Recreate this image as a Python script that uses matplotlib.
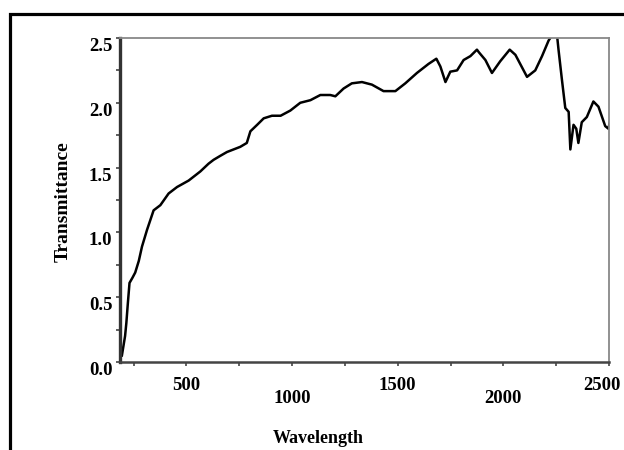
import matplotlib
matplotlib.use("Agg")
import matplotlib.pyplot as plt
from matplotlib.patches import Rectangle
from matplotlib.ticker import MultipleLocator

# Transmittance spectrum, values
wavelength = [195, 202, 210, 216, 223, 231, 245, 258, 275, 290, 314, 345, 377, 416,
              456, 511, 566, 605, 629, 660, 692, 755, 786, 803, 835, 866, 905, 946,
              992, 1039, 1087, 1134, 1181, 1205, 1244, 1283, 1331, 1378, 1433, 1489,
              1536, 1591, 1646, 1683, 1702, 1726, 1749, 1781, 1812, 1844, 1875, 1884,
              1915, 1946, 1985, 2030, 2057, 2112, 2151, 2183, 2214, 2230, 2254, 2261,
              2277, 2293, 2309, 2317, 2332, 2345, 2355, 2371, 2395, 2426, 2450, 2482,
              2497, 2513]
transmittance = [0.05, 0.12, 0.20, 0.30, 0.45, 0.61, 0.65, 0.69, 0.78, 0.89, 1.02, 1.17,
                 1.21, 1.30, 1.35, 1.40, 1.47, 1.53, 1.56, 1.59, 1.62, 1.66, 1.69, 1.78,
                 1.83, 1.88, 1.90, 1.90, 1.94, 2.00, 2.02, 2.06, 2.06, 2.05, 2.11, 2.15,
                 2.16, 2.14, 2.09, 2.09, 2.15, 2.23, 2.30, 2.34, 2.28, 2.16, 2.24, 2.25,
                 2.33, 2.36, 2.41, 2.39, 2.33, 2.23, 2.32, 2.41, 2.37, 2.20, 2.25, 2.36,
                 2.48, 2.52, 2.52, 2.41, 2.18, 1.96, 1.93, 1.64, 1.83, 1.80, 1.69, 1.85,
                 1.89, 2.01, 1.97, 1.82, 1.80, 1.92]

x_labels = ["500", "1000", "1500", "2000", "2500"]
x_label_pos = [500, 1000, 1500, 2000, 2500]
y_ticks = [0.0, 0.5, 1.0, 1.5, 2.0, 2.5]

serif = ["Liberation Serif", "DejaVu Serif"]

fig = plt.figure(figsize=(6.24, 4.5), dpi=100)
ax = fig.add_axes([0.1923, 0.1956, 0.7837, 0.72])

ax.plot(wavelength, transmittance, color="black", lw=1.8)

ax.set_xlim(186, 2500)
ax.set_ylim(0, 2.5)

ax.xaxis.set_major_locator(MultipleLocator(250))
ax.set_xticklabels([])
ax.set_yticks(y_ticks)
ax.yaxis.set_minor_locator(MultipleLocator(0.25))
ax.set_yticklabels(["%.1f" % v for v in y_ticks], fontfamily=serif,
                   fontweight="bold", fontsize=13.5)
ax.tick_params(axis="both", which="both", direction="out", length=3,
               width=1.2, color="#444444")
ax.tick_params(axis="y", pad=2.5)
for lab in ax.get_yticklabels():
    lab.set_verticalalignment("top")

# staggered x labels like in the original
for i, (txt, xv) in enumerate(zip(x_labels, x_label_pos)):
    dy = -17 if i % 2 == 0 else -26
    dx = -5 if xv == 2500 else 0
    ax.annotate(txt, xy=(xv, 0), xycoords=("data", "axes fraction"),
                xytext=(dx, dy), textcoords="offset points",
                ha="center", va="center", fontfamily=serif,
                fontweight="bold", fontsize=13.5, annotation_clip=False)

ax.annotate("Wavelength", xy=(0.405, 0), xycoords="axes fraction",
            xytext=(0, -55), textcoords="offset points", ha="center",
            va="center", fontfamily=serif, fontweight="bold", fontsize=13)
fig.text(63 / 624, 1 - 202 / 450, "Transmittance", rotation=90, ha="center",
         va="center", fontfamily=serif, fontweight="bold", fontsize=14)

ax.spines["left"].set_linewidth(2.4)
ax.spines["left"].set_color("#333333")
ax.spines["bottom"].set_linewidth(1.8)
ax.spines["bottom"].set_color("#444444")
for s in ["top", "right"]:
    ax.spines[s].set_linewidth(1.3)
    ax.spines[s].set_color("#888888")

# outer frame of the picture
fig.add_artist(Rectangle((9.5 / 624, -0.1), 1.2, 1.1 - 13.5 / 450,
                         transform=fig.transFigure, fill=False,
                         lw=2.3, edgecolor="black"))

fig.savefig("out.png", dpi=100)
